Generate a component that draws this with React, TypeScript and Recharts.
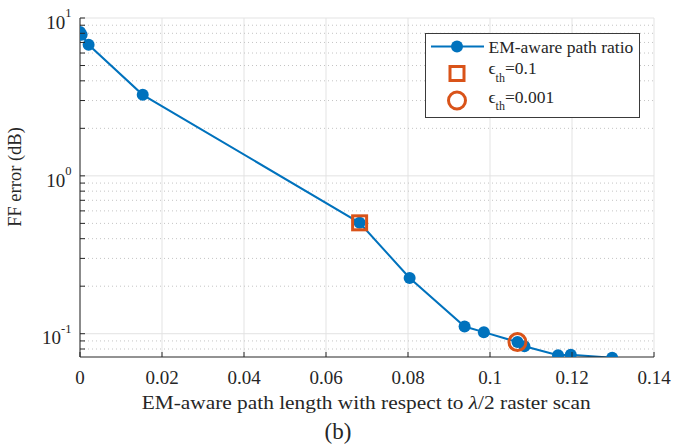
import React from 'react';
import { ComposedChart, Line, Scatter, XAxis, YAxis, CartesianGrid, ReferenceLine } from 'recharts';

const pathRatio = [0, 0.0004, 0.0021, 0.0153, 0.0682, 0.0804, 0.0938, 0.0985, 0.1067, 0.1084, 0.1166, 0.1197, 0.1298];
const ffError = [8.15, 7.83, 6.77, 3.26, 0.504, 0.2255, 0.111, 0.1023, 0.0885, 0.0832, 0.073, 0.0736, 0.0705];
const eps01X = [0.0682];
const eps01Y = [0.504];
const eps0001X = [0.1067];
const eps0001Y = [0.0885];
const xTicks = [0, 0.02, 0.04, 0.06, 0.08, 0.1, 0.12, 0.14];
const yMajor = [0.1, 1, 10];
const yMinor = [0.08, 0.09, 0.2, 0.3, 0.4, 0.5, 0.6, 0.7, 0.8, 0.9, 2, 3, 4, 5, 6, 7, 8, 9];
const yAll = [...yMinor, ...yMajor].sort((a, b) => a - b);
const exps: Record<string, string> = { '0.1': '-1', '1': '0', '10': '1' };

const data = pathRatio.map((x, i) => ({ x, y: ffError[i] }));
const sq = eps01X.map((x, i) => ({ x, y: eps01Y[i] }));
const ci = eps0001X.map((x, i) => ({ x, y: eps0001Y[i] }));

const BLUE = '#0072BD';
const ORANGE = '#D95319';
const AX = '#262626';
const F = '"Liberation Serif", "Times New Roman", serif';
const FS = 17.5;

const BottomTick = (p: any) => (
  <g>
    <line x1={p.x} x2={p.x} y1={p.y} y2={p.y - 5} stroke={AX} />
    <text x={p.x} y={p.y + 27} textAnchor="middle" fontSize={19} fill={AX} fontFamily={F}>
      {String(p.payload.value)}
    </text>
  </g>
);
const TopTick = (p: any) => <line x1={p.x} x2={p.x} y1={p.y} y2={p.y + 5} stroke={AX} />;
const LeftTick = (p: any) => {
  const e = exps[String(p.payload.value)];
  return (
    <g>
      <line x1={p.x} x2={p.x + 5} y1={p.y} y2={p.y} stroke={AX} />
      {e !== undefined && (
        <text x={p.x - 8.5} y={p.y + 10.7} textAnchor="end" fontSize={19} fill={AX} fontFamily={F}>
          10<tspan dy={-11.4} fontSize={12.5}>{e}</tspan>
        </text>
      )}
    </g>
  );
};
const RightTick = (p: any) => <line x1={p.x} x2={p.x - 5} y1={p.y} y2={p.y} stroke={AX} />;

const XLabel = (p: any) => (
  <g fontFamily={F} fill={AX}>
    <text x={366.2} y={408.5} textAnchor="middle" fontSize={19.5} textLength={449} lengthAdjust="spacingAndGlyphs">
      EM-aware path length with respect to <tspan fontStyle="italic">λ</tspan>/2 raster scan
    </text>
    <text x={338} y={439} textAnchor="middle" fontSize={23}>(b)</text>
  </g>
);
const YLabel = () => (
  <text transform="translate(21,177) rotate(-90)" textAnchor="middle" fontSize={18.5} fill={AX} fontFamily={F}>
    FF error (dB)
  </text>
);

const Square = (p: any) => (
  <rect x={p.cx - 7} y={p.cy - 7} width={14} height={14} fill="none" stroke={ORANGE} strokeWidth={3} />
);
const Ring = (p: any) => <circle cx={p.cx} cy={p.cy} r={8.5} fill="none" stroke={ORANGE} strokeWidth={3} />;

const Legend = () => (
  <div style={{ position: 'absolute', left: 425, top: 33, width: 215, height: 85, border: '1px solid #3a3a3a', background: '#fff', boxSizing: 'border-box' }}>
    <svg width={213} height={83} style={{ display: 'block' }}>
      <g fontFamily={F} fill={AX} fontSize={FS}>
        <line x1={5} x2={58} y1={12.5} y2={12.5} stroke={BLUE} strokeWidth={2} />
        <circle cx={31} cy={12.5} r={6} fill={BLUE} />
        <rect x={24} y={32.5} width={14} height={14} fill="none" stroke={ORANGE} strokeWidth={3} />
        <circle cx={31} cy={66.5} r={8.5} fill="none" stroke={ORANGE} strokeWidth={3} />
        <text x={62.5} y={18.5}>EM-aware path ratio</text>
        <text x={62.5} y={40}>ϵ<tspan dy={7.5} fontSize={12}>th</tspan><tspan dy={-7.5}>=0.1</tspan></text>
        <text x={62.5} y={68.5}>ϵ<tspan dy={7.5} fontSize={12}>th</tspan><tspan dy={-7.5}>=0.001</tspan></text>
      </g>
    </svg>
  </div>
);

export default function App() {
  return (
    <div style={{ position: 'relative', width: 684, height: 447, background: '#fff' }}>
      <style>{`body{margin:0;background:#fff}`}</style>
      <ComposedChart width={684} height={447} data={data} margin={{ top: 18, right: 30, left: 0, bottom: 0 }}>
        <CartesianGrid horizontal={false} stroke="#e3e3e3" strokeWidth={1} />
        {yMinor.map((v) => (
          <ReferenceLine key={'m' + v} y={v} stroke="#c4c4c4" strokeDasharray="1 3" strokeWidth={1} />
        ))}
        {yMajor.map((v) => (
          <ReferenceLine key={'M' + v} y={v} stroke="#e3e3e3" strokeWidth={1} />
        ))}
        <XAxis dataKey="x" type="number" domain={[0, 0.14]} ticks={xTicks} interval={0} height={90}
          tickSize={0} tickMargin={0} tickLine={false} tick={<BottomTick />} stroke={AX} label={<XLabel />} allowDataOverflow />
        <XAxis xAxisId="top" orientation="top" type="number" domain={[0, 0.14]} ticks={xTicks} interval={0} height={0}
          tickSize={0} tickMargin={0} tickLine={false} tick={<TopTick />} stroke={AX} allowDataOverflow />
        <YAxis scale="log" type="number" domain={[0.0712, 10]} ticks={yAll} interval={0} width={80}
          tickSize={0} tickMargin={0} tickLine={false} tick={<LeftTick />} stroke={AX} label={<YLabel />} allowDataOverflow />
        <YAxis yAxisId="right" orientation="right" scale="log" type="number" domain={[0.0712, 10]} ticks={yAll} interval={0} width={0}
          tickSize={0} tickMargin={0} tickLine={false} tick={<RightTick />} stroke={AX} allowDataOverflow />
        <Line dataKey="y" stroke={BLUE} strokeWidth={2} isAnimationActive={false}
          dot={{ r: 6, fill: BLUE, stroke: BLUE, strokeWidth: 0 }} activeDot={false} />
        <Scatter data={sq} dataKey="y" shape={<Square />} isAnimationActive={false} />
        <Scatter data={ci} dataKey="y" shape={<Ring />} isAnimationActive={false} />
      </ComposedChart>
      <Legend />
    </div>
  );
}
